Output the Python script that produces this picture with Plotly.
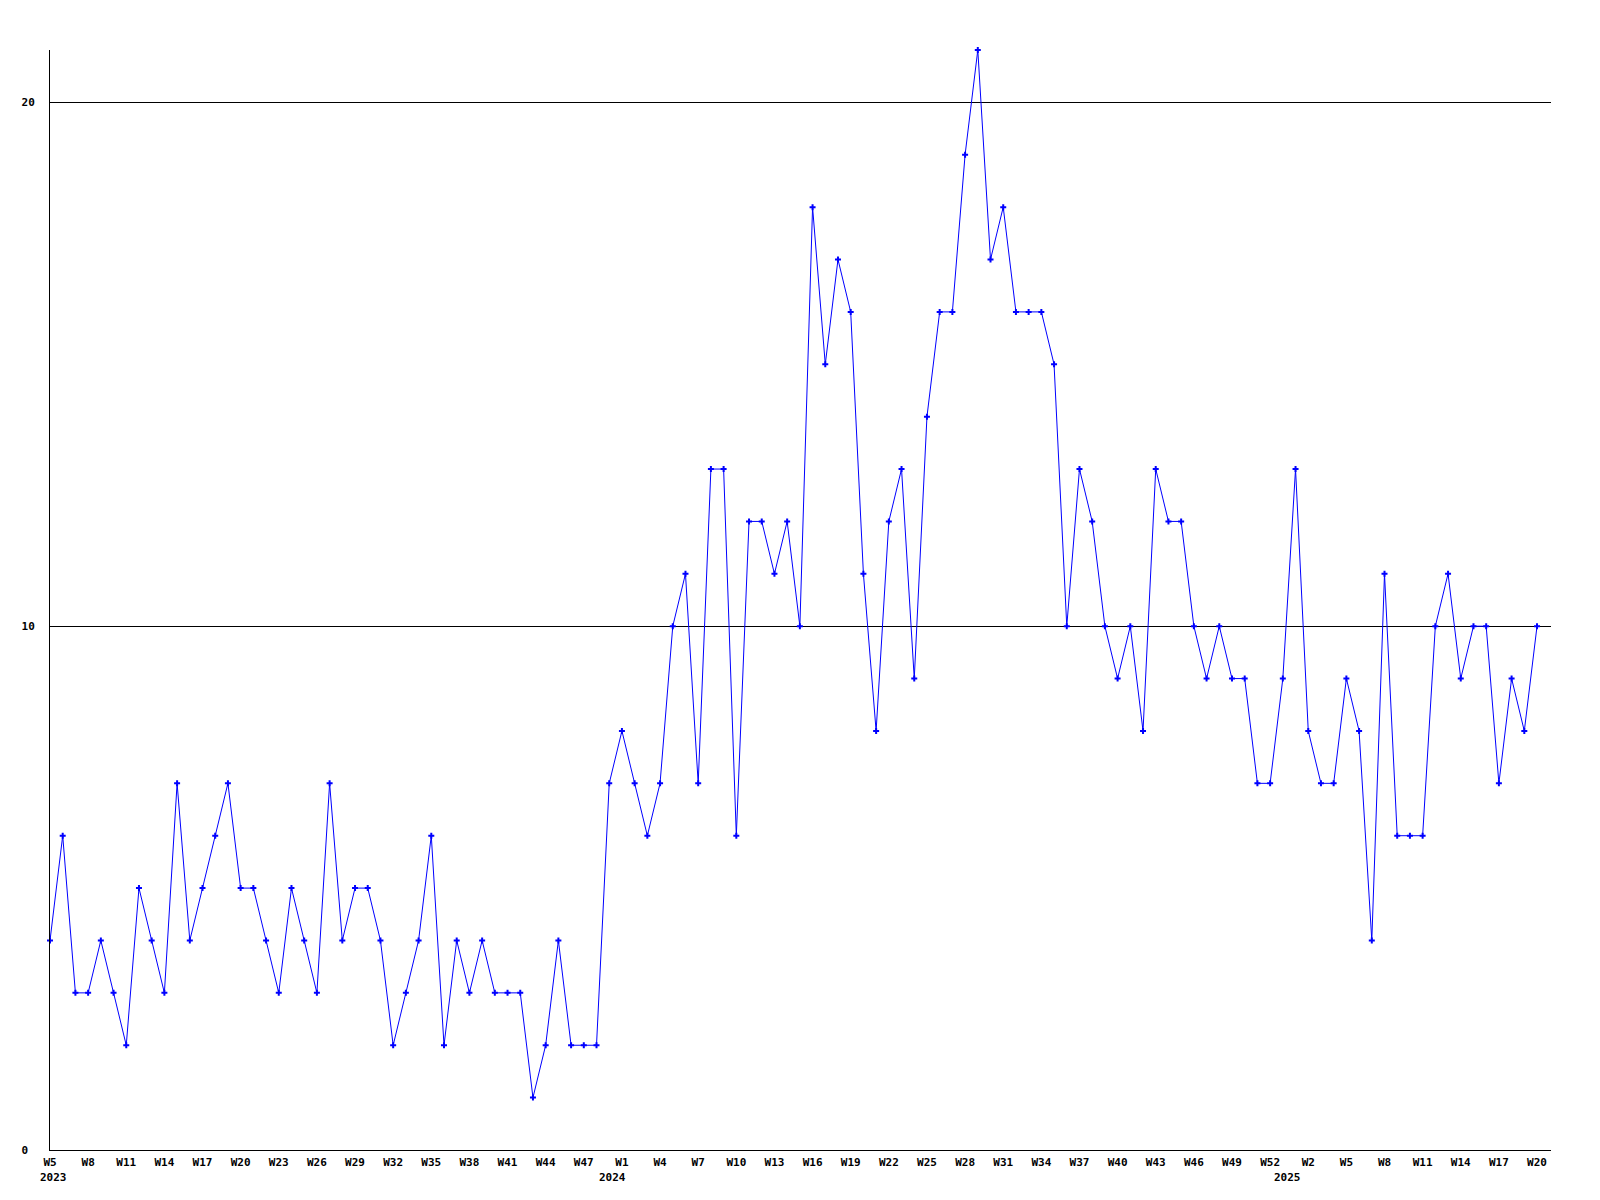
import plotly.graph_objects as go

# Weekly counts, one per week point (118 points)
weekly_counts = [
    4, 6, 3, 3, 4, 3, 2, 5, 4, 3, 7, 4, 5, 6, 7, 5, 5, 4, 3, 5, 4, 3, 7,
    4, 5, 5, 4, 2, 3, 4, 6, 2, 4, 3, 4, 3, 3, 3, 1, 2, 4, 2, 2, 2, 7,
    8, 7, 6, 7, 10, 11, 7, 13, 13, 6, 12, 12, 11, 12, 10,
    18, 15, 17, 16, 11, 8, 12, 13, 9, 14, 16, 16, 19, 21, 17, 18, 16, 16, 16, 15,
    10, 13, 12, 10, 9, 10, 8, 13, 12, 12, 10, 9, 10, 9, 9, 7, 7, 9,
    13, 8, 7, 7, 9, 8, 4, 11, 6, 6, 6, 10, 11, 9, 10, 10, 7, 9, 8, 10,
]

# Tick labels, one every third point
week_labels = [
    "W5", "W8", "W11", "W14", "W17", "W20", "W23", "W26", "W29", "W32",
    "W35", "W38", "W41", "W44", "W47",
    "W1", "W4", "W7", "W10", "W13", "W16", "W19", "W22", "W25", "W28",
    "W31", "W34", "W37", "W40", "W43", "W46", "W49", "W52",
    "W2", "W5", "W8", "W11", "W14", "W17", "W20",
]
# year label -> index of the week label it sits under
year_labels = {0: "2023", 15: "2024", 33: "2025"}
year_label_xshift = {0: 3, 15: -9, 33: -21}
tick_step = 3

y_ticks = [0, 10, 20]

x_index = list(range(len(weekly_counts)))
tick_vals = [k * tick_step for k in range(len(week_labels))]

font_main = dict(family="DejaVu Sans Mono", size=11, color="black", weight="bold")

fig = go.Figure()
fig.add_trace(go.Scatter(
    x=x_index,
    y=weekly_counts,
    mode="lines+markers",
    line=dict(color="#0000ff", width=1),
    marker=dict(symbol="cross", size=5, color="#0000ff", line=dict(width=0)),
    cliponaxis=False,
    showlegend=False,
))

for k, year in year_labels.items():
    fig.add_annotation(
        x=k * tick_step, xref="x",
        y=0, yref="paper",
        text=year,
        showarrow=False,
        xanchor="center", yanchor="middle",
        xshift=year_label_xshift[k], yshift=-27,
        font=font_main,
    )

# y labels are left-aligned in the reference: pad with non-breaking spaces
y_tick_text = [str(v).ljust(2).replace(" ", "\u00a0") for v in y_ticks]

fig.update_layout(
    width=1600,
    height=1200,
    autosize=False,
    margin=dict(l=42, r=57, t=42, b=58),
    paper_bgcolor="white",
    plot_bgcolor="white",
    font=font_main,
    xaxis=dict(
        range=[0, 118.1],
        tickmode="array",
        tickvals=tick_vals,
        ticktext=week_labels,
        showgrid=False,
        zeroline=False,
        showline=True,
        linecolor="black",
        linewidth=1,
        ticks="",
        ticklabelstandoff=2,
        tickfont=font_main,
    ),
    yaxis=dict(
        range=[0, 21],
        tickmode="array",
        tickvals=y_ticks,
        ticktext=y_tick_text,
        showgrid=True,
        gridcolor="black",
        gridwidth=1,
        zeroline=False,
        showline=True,
        linecolor="black",
        linewidth=1,
        ticks="",
        ticklabelstandoff=12,
        tickfont=font_main,
    ),
)

fig.write_html("out.html")
